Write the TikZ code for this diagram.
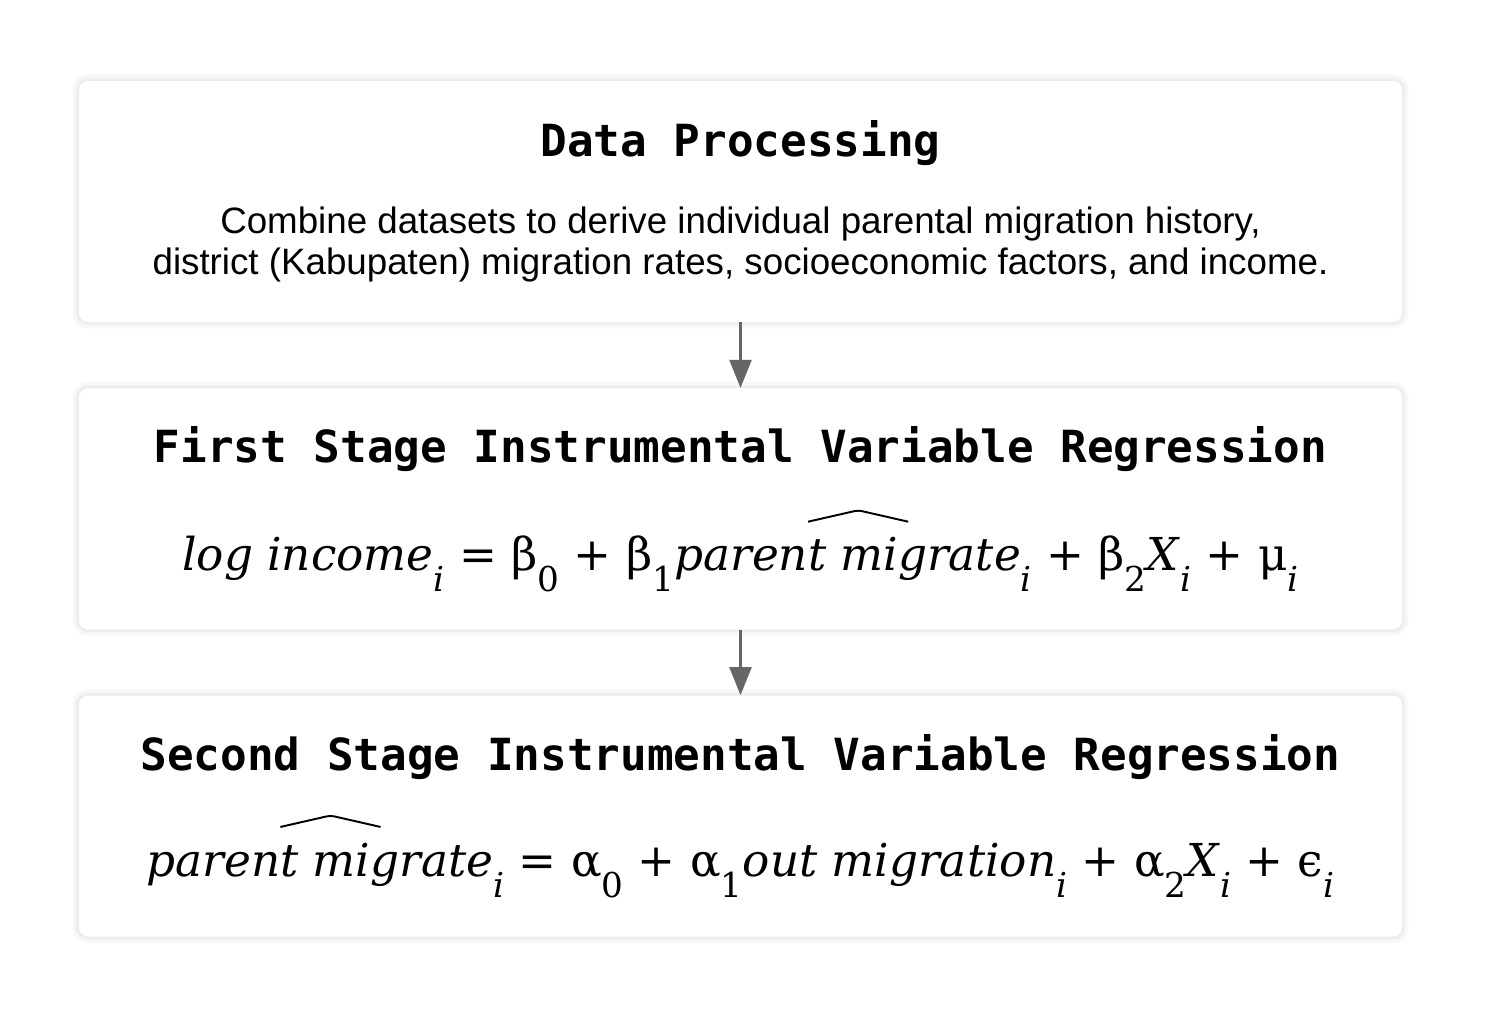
\documentclass[tikz,border=0pt]{standalone}
\usepackage{fontspec}
\usetikzlibrary{arrows.meta}
\newfontfamily\headfont{DejaVu Sans Mono}
\newfontfamily\bodyfont{Liberation Sans}
\newfontfamily\eqfont{DejaVu Serif}
\newcommand{\eqsub}[1]{\raisebox{-12pt}{\fontsize{19.5}{19.5}\selectfont #1}}
\newcommand{\archat}{\tikz[overlay,baseline=0pt]\draw[line width=1.1pt,rounded corners=2pt] (0pt,28pt) -- (28.5pt,34.5pt) -- (57pt,28pt);}
\tikzstyle{card} = [rectangle, rounded corners=5pt, minimum width=26.46cm, minimum height=4.82cm, fill=white,
preaction={draw=black!3, line width=7pt},
preaction={draw=black!7, line width=3pt}]
\tikzstyle{heading} = [anchor=base, font=\headfont\bfseries\fontsize{25.2}{30}\selectfont]
\tikzstyle{body} = [align=center, font=\bodyfont\fontsize{20.9}{23.4}\selectfont]
\tikzstyle{formula} = [anchor=base, font=\eqfont\fontsize{25.8}{30}\selectfont]
\tikzstyle{arrow} = [line width=1.6pt, draw=black!60, ->, >={Triangle[length=16pt,width=12.5pt]}]
\begin{document}
\begin{tikzpicture}[node distance=6.145cm]

\fill[white] (0,0) rectangle (29.7,-20.26);
\useasboundingbox (0,0) rectangle (29.7,-20.26);

\node (proc) [card] at (14.81,-4.03) {};
\node (first) [card, below of=proc] {};
\node (second) [card, below of=first] {};

\node (proctitle) [heading] at ([yshift=-1.52cm]proc.north) {Data Processing};
\node (proctext) [body] at ([yshift=-3.27cm]proc.north) {Combine datasets to derive individual parental migration history,\\district (Kabupaten) migration rates, socioeconomic factors, and income.};

\node (firsttitle) [heading] at ([yshift=-1.5cm]first.north) {First Stage Instrumental Variable Regression};
\node (firsteq) [formula] at ([yshift=-3.66cm]first.north) {\textit{log income}\eqsub{\textit{i}} = β\eqsub{0} + β\eqsub{1}\textit{paren\archat t migrate}\eqsub{\textit{i}} + β\eqsub{2}\textit{X}\eqsub{\textit{i}} + μ\eqsub{\textit{i}}};

\node (secondtitle) [heading] at ([yshift=-1.5cm]second.north) {Second Stage Instrumental Variable Regression};
\node (secondeq) [formula] at ([yshift=-3.62cm]second.north) {\textit{paren\archat t migrate}\eqsub{\textit{i}} = α\eqsub{0} + α\eqsub{1}\textit{out migration}\eqsub{\textit{i}} + α\eqsub{2}\textit{X}\eqsub{\textit{i}} + ϵ\eqsub{\textit{i}}};

\draw [arrow] (proc) -- (first);
\draw [arrow] (first) -- (second);

\end{tikzpicture}
\end{document}
